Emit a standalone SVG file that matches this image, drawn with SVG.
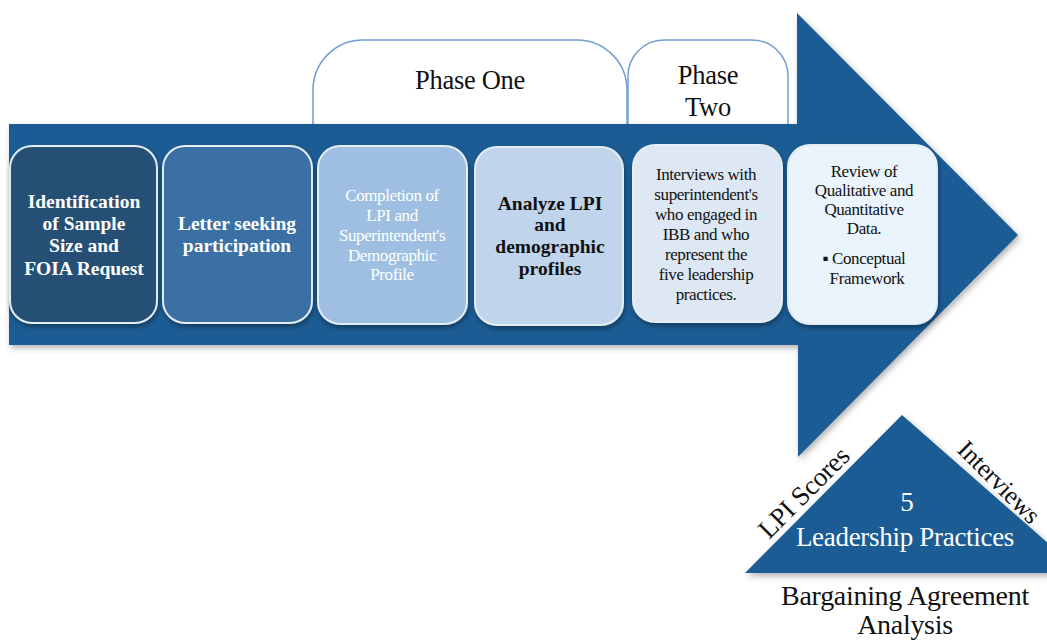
<svg xmlns="http://www.w3.org/2000/svg" width="1047" height="641" viewBox="0 0 1047 641">
<style>
.t{font-family:"Liberation Serif","Times New Roman",serif;text-anchor:middle}
.b{font-weight:bold}
.w{fill:#ffffff}
.k{fill:#111111}
.n{font-size:17px;letter-spacing:-0.4px}
.bb{font-size:19.5px;font-weight:bold}
.box{stroke:#e4ecf4;stroke-width:2;filter:url(#sh)}
.tab{fill:#ffffff;stroke:#6f9fd2;stroke-width:1.5}
</style>
<defs>
<filter id="sh" x="-10%" y="-10%" width="125%" height="130%">
<feDropShadow dx="1" dy="3" stdDeviation="2.5" flood-color="#000" flood-opacity="0.35"/>
</filter>
<filter id="sh2" x="-5%" y="-5%" width="115%" height="115%">
<feDropShadow dx="2" dy="3" stdDeviation="3" flood-color="#000" flood-opacity="0.3"/>
</filter>
</defs>
<g id="tabs">
<path class="tab" d="M313 124 V90 A50 50 0 0 1 363 40 H577 A50 50 0 0 1 627 90 V124"/>
<path class="tab" d="M628 124 V76 A36 36 0 0 1 664 40 H752 A36 36 0 0 1 788 76 V124"/>
</g>
<g id="arrow">
<path d="M9 124 H797 V13 L1018 235 L798 457 V345 H9 Z" fill="#1a5c94" filter="url(#sh2)"/>
</g>
<g id="triangle">
<path d="M745 573 L902 415 L1082 573 Z" fill="#1a5c94" filter="url(#sh2)"/>
</g>
<g id="connectors"></g>
<g id="phase-one">
<text class="t k" x="470" y="89" font-size="26.5" letter-spacing="-0.3">Phase One</text>
</g>
<g id="phase-two">
<text class="t k" x="708" y="84" font-size="26.5" letter-spacing="-0.3">Phase</text>
<text class="t k" x="708" y="116" font-size="26.5" letter-spacing="-0.3">Two</text>
</g>
<g id="box1">
<rect class="box" x="10" y="146" width="147" height="177" rx="22" fill="#264f74"/>
<text class="t bb w" x="84" y="208">Identification</text>
<text class="t bb w" x="84" y="230">of Sample</text>
<text class="t bb w" x="84" y="252">Size and</text>
<text class="t bb w" x="84" y="275">FOIA Request</text>
</g>
<g id="box2">
<rect class="box" x="163" y="146" width="149" height="177" rx="22" fill="#3a6fa4"/>
<text class="t bb w" x="237" y="230">Letter seeking</text>
<text class="t bb w" x="237" y="252">participation</text>
</g>
<g id="box3">
<rect class="box" x="318" y="146" width="149" height="178" rx="22" fill="#9ebfe1"/>
<text class="t n w" x="392" y="201">Completion of</text>
<text class="t n w" x="392" y="221">LPI and</text>
<text class="t n w" x="392" y="241">Superintendent's</text>
<text class="t n w" x="392" y="261">Demographic</text>
<text class="t n w" x="392" y="280">Profile</text>
</g>
<g id="box4">
<rect class="box" x="475" y="147" width="148" height="178" rx="22" fill="#c0d5eb"/>
<text class="t bb k" x="550" y="210">Analyze LPI</text>
<text class="t bb k" x="550" y="231">and</text>
<text class="t bb k" x="550" y="253">demographic</text>
<text class="t bb k" x="550" y="275">profiles</text>
</g>
<g id="box5">
<rect class="box" x="633" y="145" width="149" height="177" rx="22" fill="#dde8f4"/>
<text class="t n k" x="706" y="180">Interviews with</text>
<text class="t n k" x="706" y="200">superintendent's</text>
<text class="t n k" x="706" y="220">who engaged in</text>
<text class="t n k" x="706" y="240">IBB and who</text>
<text class="t n k" x="706" y="260">represent the</text>
<text class="t n k" x="706" y="280">five leadership</text>
<text class="t n k" x="706" y="300">practices.</text>
</g>
<g id="box6">
<rect class="box" x="788" y="145" width="149" height="179" rx="22" fill="#eaf4fd"/>
<text class="t n k" x="864" y="177">Review of</text>
<text class="t n k" x="864" y="196">Qualitative and</text>
<text class="t n k" x="864" y="215">Quantitative</text>
<text class="t n k" x="864" y="234">Data.</text>
<text class="t n k" x="864" y="264">▪ Conceptual</text>
<text class="t n k" x="867" y="284">Framework</text>
</g>
<g id="triangle-labels">
<text class="t w" font-size="27" x="907" y="511">5</text>
<text class="t w" font-size="27" x="905" y="546" letter-spacing="-0.3">Leadership Practices</text>
<text class="t k" font-size="27" letter-spacing="-0.3" transform="translate(810 499) rotate(-45)">LPI Scores</text>
<text class="t k" font-size="25.5" letter-spacing="-0.3" transform="translate(993 488) rotate(45)">Interviews</text>
<text class="t k" font-size="28" x="905" y="605" letter-spacing="-0.3">Bargaining Agreement</text>
<text class="t k" font-size="28" x="905" y="634" letter-spacing="-0.3">Analysis</text>
</g>
</svg>
